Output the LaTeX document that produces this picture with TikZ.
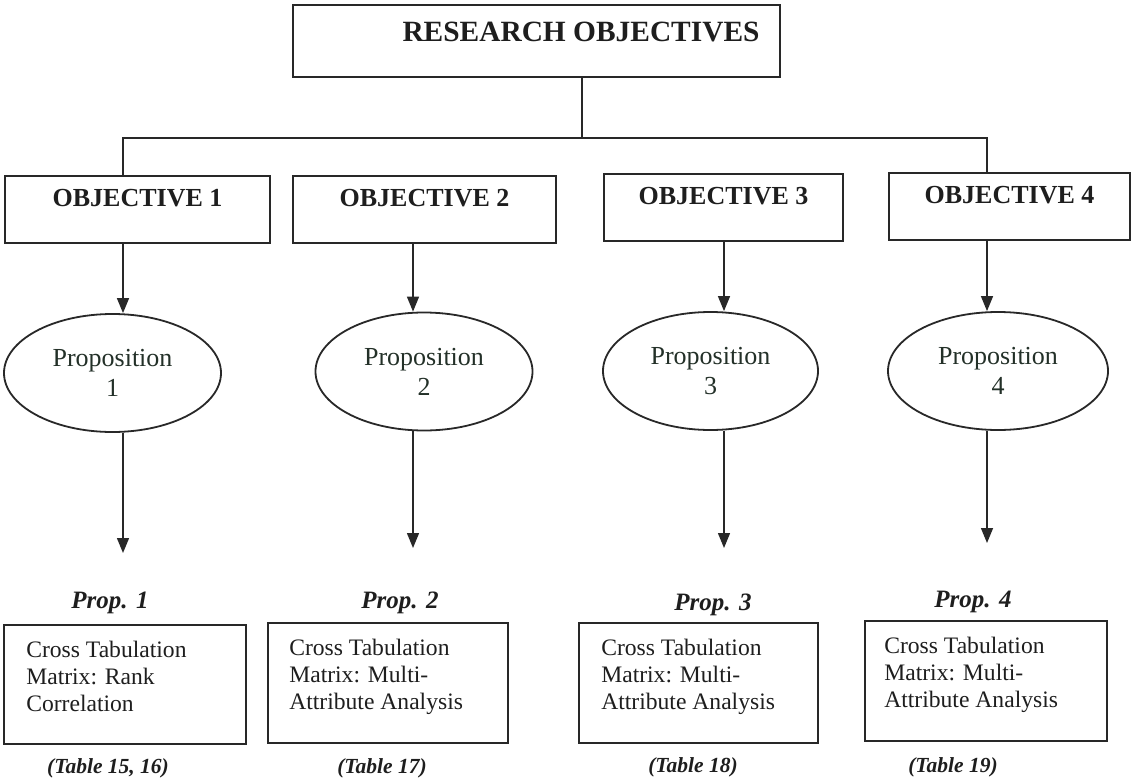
\documentclass[tikz,border=0pt]{standalone}
\usepackage{fontspec}
\setmainfont{Liberation Serif}
\usetikzlibrary{shapes.geometric,arrows.meta}
\definecolor{ink}{RGB}{30,30,30}
\definecolor{penc}{RGB}{40,40,40}
\definecolor{propink}{RGB}{35,48,40}

\begin{document}
\begin{tikzpicture}[x=1pt,y=-1pt,
  frame/.style={draw=penc,line width=1.8pt,inner sep=0pt},
  objbox/.style={frame,minimum width=#1,text height=30pt,text depth=37pt,
    text=ink,font=\fontsize{26}{30}\selectfont\bfseries},
  propell/.style={ellipse,draw=penc,line width=1.8pt,minimum width=#1,
    minimum height=118pt,inner sep=0pt,align=center,text=propink,
    font=\fontsize{26}{30}\selectfont},
  resbox/.style={frame},
  btext/.style={inner sep=0pt,align=left,text=ink,font=\fontsize{23.6}{27}\selectfont},
  plabel/.style={inner sep=0pt,text=ink,font=\fontsize{25}{30}\selectfont\bfseries\itshape},
  tlabel/.style={inner sep=0pt,text=ink,font=\fontsize{21.5}{25}\selectfont\bfseries\itshape},
  conn/.style={draw=penc,line width=1.4pt},
  arr/.style={conn,-{Triangle[length=15pt,width=12pt]}}
]
\useasboundingbox (0,0) rectangle (1131,781);
\fill[white] (0,0) rectangle (1131,781);

% title box
\node[resbox,minimum width=487pt,minimum height=72pt] (ro) at (536.5,41) {};
\node[inner sep=0pt,text=ink,font=\fontsize{29.4}{34}\selectfont\bfseries] (rot) at (581,32) {RESEARCH OBJECTIVES};

% column positions
\coordinate (x1) at (123,0);
\coordinate (x2) at (413,0);
\coordinate (x3) at (724,0);
\coordinate (x4) at (987,0);
\coordinate (hub) at (582,138);

% objectives
\node[objbox=265pt] (o1) at (137.5,209.5) {OBJECTIVE 1};
\node[objbox=263pt] (o2) at (424.5,209.5) {OBJECTIVE 2};
\node[objbox=239pt] (o3) at (723.5,207.5) {OBJECTIVE 3};
\node[objbox=241pt] (o4) at (1009.5,206.5) {OBJECTIVE 4};

% propositions
\node[propell=217pt] (e1) at (112.5,373) {Proposition\\1};
\node[propell=217pt] (e2) at (424,371.5) {Proposition\\2};
\node[propell=215pt] (e3) at (710.5,371) {Proposition\\3};
\node[propell=220pt] (e4) at (998,371) {Proposition\\4};

% tree connectors
\draw[conn] (ro.south -| hub) -- (hub);
\draw[conn] (o1.north -| x1) |- (hub) -| (o4.north -| x4);

% arrows objective -> proposition
\draw[arr] (o1.south -| x1) -- (e1.north -| x1);
\draw[arr] (o2.south -| x2) -- (e2.north -| x2);
\draw[arr] (o3.south -| x3) -- (e3.north -| x3);
\draw[arr] (o4.south -| x4) -- (e4.north -| x4);

% arrows below propositions
\coordinate (t1) at (123,553);
\coordinate (t2) at (413,548);
\coordinate (t3) at (724,548);
\coordinate (t4) at (987,543);
\draw[arr] (e1.south -| t1) -- (t1);
\draw[arr] (e2.south -| t2) -- (t2);
\draw[arr] (e3.south -| t3) -- (t3);
\draw[arr] (e4.south -| t4) -- (t4);

% proposition labels
\node[plabel] (pl1) at (110,603) {Prop. 1};
\node[plabel] (pl2) at (400,603) {Prop. 2};
\node[plabel] (pl3) at (713,605) {Prop. 3};
\node[plabel] (pl4) at (973,602) {Prop. 4};

% analysis boxes
\node[frame,minimum width=242pt,minimum height=119pt] (b1) at (125,684.5) {};
\node[frame,minimum width=240pt,minimum height=120pt] (b2) at (388,683) {};
\node[frame,minimum width=239pt,minimum height=120pt] (b3) at (698.5,683) {};
\node[frame,minimum width=242pt,minimum height=120pt] (b4) at (986,681) {};

\node[btext,anchor=north west] (bt1) at ([xshift=23pt,yshift=-17pt]b1.north west) {Cross Tabulation\\Matrix: Rank\\Correlation};
\node[btext,anchor=north west] (bt2) at ([xshift=22pt,yshift=-17pt]b2.north west) {Cross Tabulation\\Matrix: Multi-\\Attribute Analysis};
\node[btext,anchor=north west] (bt3) at ([xshift=23pt,yshift=-17pt]b3.north west) {Cross Tabulation\\Matrix: Multi-\\Attribute Analysis};
\node[btext,anchor=north west] (bt4) at ([xshift=20pt,yshift=-17pt]b4.north west) {Cross Tabulation\\Matrix: Multi-\\Attribute Analysis};

% table references
\node[tlabel] (tl1) at (108,768) {(Table 15, 16)};
\node[tlabel] (tl2) at (382,768) {(Table 17)};
\node[tlabel] (tl3) at (693,767) {(Table 18)};
\node[tlabel] (tl4) at (953,767) {(Table 19)};
\end{tikzpicture}
\end{document}
